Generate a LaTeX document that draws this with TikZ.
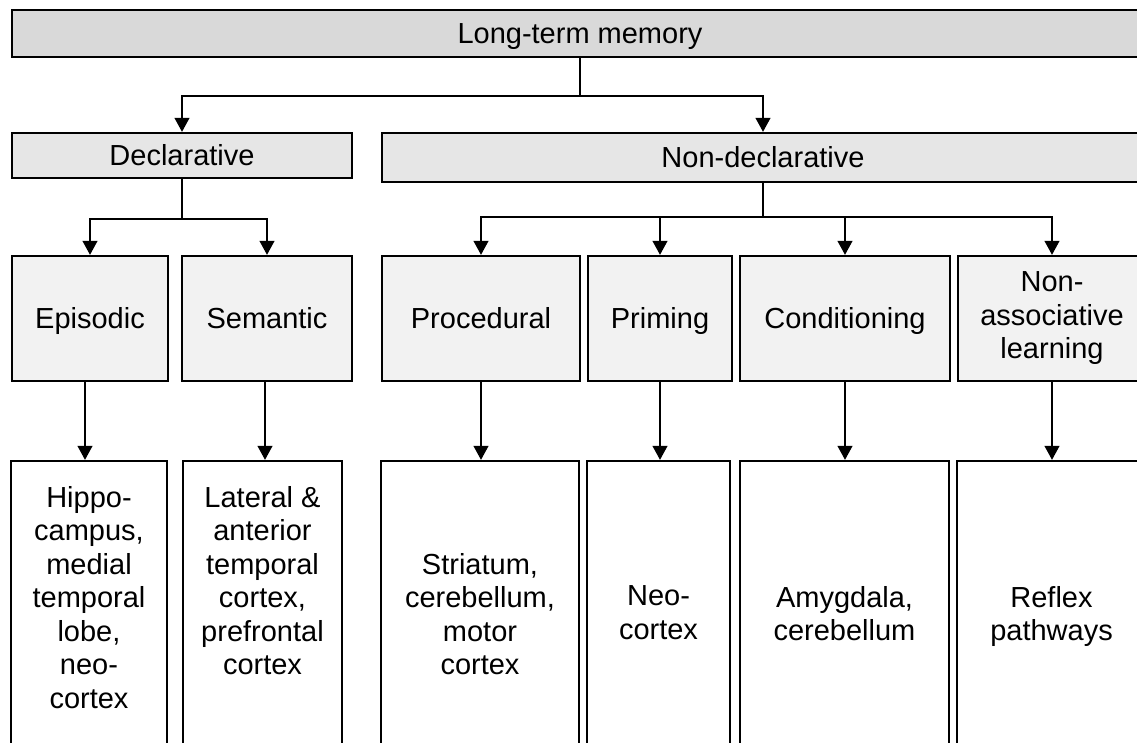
\documentclass[tikz,border=0pt]{standalone}
\usepackage{fontspec}
\setmainfont{Liberation Sans}
\usetikzlibrary{arrows.meta,positioning}
\definecolor{topgray}{RGB}{217,217,217}
\definecolor{midgray}{RGB}{230,230,230}
\definecolor{lowgray}{RGB}{242,242,242}

\begin{document}
\begin{tikzpicture}[x=1pt,y=-1pt,
  box/.style={draw,line width=2.4pt,inner sep=0pt,align=center,font=\fontsize{29}{33.5}\selectfont},
  oneline/.style={text height=26pt,text depth=6pt},
  txt/.style={inner sep=0pt,align=center,font=\fontsize{29}{33.5}\selectfont},
  link/.style={line width=1.2pt},
  >={Triangle[length=14pt,width=15pt]}]
\useasboundingbox (0,0) rectangle (1137,742);
\node[box,oneline,fill=topgray,minimum width=1136pt,minimum height=47pt] (ltm) at (580,33.5) {Long-term memory};
\node[box,oneline,fill=midgray,minimum width=340pt,minimum height=45pt] (decl) at (182,155.5) {Declarative};
\node[box,oneline,fill=midgray,minimum width=762pt,minimum height=49pt] (ndecl) at (763,157.5) {Non-declarative};
\node[box,oneline,fill=lowgray,minimum width=156pt,minimum height=125pt] (epi) at (90,318.5) {Episodic};
\node[box,oneline,fill=lowgray,minimum width=170pt,minimum height=125pt] (sem) at (267,318.5) {Semantic};
\node[box,oneline,fill=lowgray,minimum width=198pt,minimum height=125pt] (proc) at (481,318.5) {Procedural};
\node[box,oneline,fill=lowgray,minimum width=144pt,minimum height=125pt] (prim) at (660,318.5) {Priming};
\node[box,oneline,fill=lowgray,minimum width=210pt,minimum height=125pt] (cond) at (845,318.5) {Conditioning};
\node[box,fill=lowgray,minimum width=188pt,minimum height=125pt] (nona) at (1052,318.5) {Non-\\associative\\learning};
\node[box,minimum width=156pt,minimum height=359pt] (hip) at (89,640.5) {};
\node[box,minimum width=159pt,minimum height=359pt] (lat) at (262.5,640.5) {};
\node[box,minimum width=198pt,minimum height=359pt] (str) at (480,640.5) {};
\node[box,minimum width=143pt,minimum height=359pt] (neo) at (658.5,640.5) {};
\node[box,minimum width=209pt,minimum height=359pt] (amy) at (844.5,640.5) {};
\node[box,minimum width=189pt,minimum height=359pt] (ref) at (1051.5,640.5) {};
\node[txt,below=26pt of hip.north] (hiptext) {Hippo-\\campus,\\medial\\temporal\\lobe,\\neo-\\cortex};
\node[txt,below=26pt of lat.north] (lattext) {Lateral \&\\anterior\\temporal\\cortex,\\prefrontal\\cortex};
\node[txt,below=93pt of str.north] (strtext) {Striatum,\\cerebellum,\\motor\\cortex};
\node[txt,below=126pt of neo.north] (neotext) {Neo-\\cortex};
\node[txt,below=126pt of amy.north] (amytext) {Amygdala,\\cerebellum};
\node[txt,below=126pt of ref.north] (reftext) {Reflex\\pathways};
\coordinate (split) at (580,96);
\coordinate (dsplit) at (182,219);
\coordinate (nsplit) at (763,217);
\draw[link] (ltm.south) -- (split);
\draw[link,->] (split) -| (decl.north);
\draw[link,->] (split) -| (ndecl.north);
\draw[link] (decl.south) -- (dsplit);
\draw[link,->] (dsplit) -| (epi.north);
\draw[link,->] (dsplit) -| (sem.north);
\draw[link] (ndecl.south) -- (nsplit);
\draw[link,->] (nsplit) -| (proc.north);
\draw[link,->] (nsplit) -| (prim.north);
\draw[link,->] (nsplit) -| (cond.north);
\draw[link,->] (nsplit) -| (nona.north);
\draw[link,->] ([xshift=-5pt]epi.south) -- ([xshift=-5pt]epi.south |- hip.north);
\draw[link,->] ([xshift=-2pt]sem.south) -- ([xshift=-2pt]sem.south |- lat.north);
\draw[link,->] (proc.south) -- (proc.south |- str.north);
\draw[link,->] (prim.south) -- (prim.south |- neo.north);
\draw[link,->] (cond.south) -- (cond.south |- amy.north);
\draw[link,->] (nona.south) -- (nona.south |- ref.north);
\end{tikzpicture}
\end{document}
